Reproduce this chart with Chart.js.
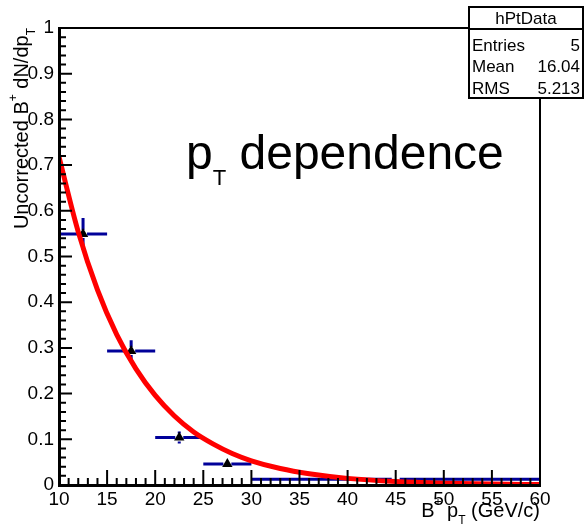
<!DOCTYPE html>
<html>
<head>
<meta charset="utf-8">
<script src="https://cdn.jsdelivr.net/npm/chart.js@4/dist/chart.umd.min.js"></script>
<style>
	body { margin: 0; background: #fff; }
	canvas { display: block; }
</style>
</head>
<body>
<canvas id="pt-canvas" width="585" height="529"></canvas>
<script>
// histogram bins (B+ pT, GeV/c) and uncorrected yield
const binLow = [10, 15, 20, 25, 30];
const binHigh = [15, 20, 25, 30, 60];
const binCenter = [12.5, 17.5, 22.5, 27.5, 45];
const yieldData = [0.549, 0.293, 0.104, 0.046, 0.0125];
const yieldErr = [0.035, 0.024, 0.013, 0.006, 0.003];

// exponential fit curve
const fitX = [10, 12, 14, 16, 18, 20, 22, 24, 26, 28, 30, 33, 36, 40, 45, 50, 55, 60];
const fitY = [0.718, 0.554, 0.427, 0.329, 0.254, 0.196, 0.151, 0.116, 0.09, 0.069, 0.053, 0.036, 0.0245, 0.0145, 0.0076, 0.004, 0.002, 0.001];

const xTicks = [10, 15, 20, 25, 30, 35, 40, 45, 50, 55, 60];
const yTicks = [0, 0.1, 0.2, 0.3, 0.4, 0.5, 0.6, 0.7, 0.8, 0.9, 1];
const yTickLabels = ["0", "0.1", "0.2", "0.3", "0.4", "0.5", "0.6", "0.7", "0.8", "0.9", "1"];

const statTitle = "hPtData";
const statLabels = ["Entries", "Mean", "RMS"];
const statValues = ["5", "16.04", "5.213"];

const FONT = "'Liberation Sans', Arial, Helvetica, sans-serif";
const errColor = "#000099";

function richText(ctx, parts, x, y, size, align) {
	let total = 0;
	parts.forEach((p) => {
		ctx.font = (p.s || 1) * size + "px " + FONT;
		p.w = ctx.measureText(p.t).width;
		total += p.w;
	});
	let cx = align === "right" ? x - total : x;
	ctx.textAlign = "left";
	ctx.textBaseline = "alphabetic";
	parts.forEach((p) => {
		ctx.font = (p.s || 1) * size + "px " + FONT;
		ctx.fillText(p.t, cx, y + (p.dy || 0) * size);
		cx += p.w;
	});
}

const rootFrame = {
	id: "rootFrame",
	beforeDatasetsDraw(chart) {
		const { ctx, scales: { x, y } } = chart;
		ctx.save();
		ctx.strokeStyle = errColor;
		ctx.lineWidth = 3;
		const gap = 4;
		binCenter.forEach((c, i) => {
			const px = x.getPixelForValue(c);
			const py = y.getPixelForValue(yieldData[i]);
			const x0 = x.getPixelForValue(binLow[i]);
			const x1 = x.getPixelForValue(binHigh[i]);
			const yTop = y.getPixelForValue(yieldData[i] + yieldErr[i]);
			const yBot = y.getPixelForValue(yieldData[i] - yieldErr[i]);
			ctx.beginPath();
			ctx.moveTo(x0, py); ctx.lineTo(px - gap, py);
			ctx.moveTo(px + gap, py); ctx.lineTo(x1, py);
			if (yTop < py - gap) { ctx.moveTo(px, yTop); ctx.lineTo(px, py - gap); }
			if (yBot > py + gap) { ctx.moveTo(px, py + gap); ctx.lineTo(px, yBot); }
			ctx.stroke();
		});
		ctx.restore();
	},
	afterDraw(chart) {
		const { ctx, chartArea: a, scales: { x, y } } = chart;
		ctx.save();
		ctx.strokeStyle = "#000";
		ctx.fillStyle = "#000";

		// ticks inside the frame
		ctx.lineWidth = 2;
		ctx.beginPath();
		for (let v = 10; v <= 60; v += 1) {
			const px = x.getPixelForValue(v);
			const len = v % 5 === 0 ? 15 : 7;
			ctx.moveTo(px, a.bottom); ctx.lineTo(px, a.bottom - len);
		}
		for (let k = 0; k <= 50; k++) {
			const py = y.getPixelForValue(k / 50);
			const len = k % 5 === 0 ? 13 : 7;
			ctx.moveTo(a.left, py); ctx.lineTo(a.left + len, py);
		}
		ctx.stroke();

		// top and right frame
		ctx.beginPath();
		ctx.moveTo(a.left, a.top); ctx.lineTo(a.right, a.top);
		ctx.moveTo(a.right, a.top); ctx.lineTo(a.right, a.bottom);
		ctx.stroke();

		// stats box
		const bx = 469, by = 7, bw = 114, bh = 91;
		ctx.fillStyle = "#fff";
		ctx.fillRect(bx, by, bw, bh);
		ctx.strokeRect(bx, by, bw, bh);
		ctx.beginPath();
		ctx.moveTo(bx, 29); ctx.lineTo(bx + bw, 29);
		ctx.stroke();
		ctx.fillStyle = "#000";
		ctx.font = "17px " + FONT;
		ctx.textBaseline = "middle";
		ctx.textAlign = "center";
		ctx.fillText(statTitle, bx + bw / 2, 19);
		statLabels.forEach((lab, i) => {
			const ty = 46 + i * 21.5;
			ctx.textAlign = "left";
			ctx.fillText(lab, 472, ty);
			ctx.textAlign = "right";
			ctx.fillText(statValues[i], 580, ty);
		});

		// big label
		richText(ctx, [
			{ t: "p" },
			{ t: "T", s: 0.46, dy: 0.34 },
			{ t: " dependence" },
		], 186, 169, 48, "left");

		// x axis title
		richText(ctx, [
			{ t: "B" },
			{ t: "+", s: 0.6, dy: -0.55 },
			{ t: " p" },
			{ t: "T", s: 0.6, dy: 0.35 },
			{ t: " (GeV/c)" },
		], a.right, 517, 20, "right");

		// y axis title
		ctx.translate(28, a.top);
		ctx.rotate(-Math.PI / 2);
		richText(ctx, [
			{ t: "Uncorrected B" },
			{ t: "+", s: 0.6, dy: -0.55 },
			{ t: " dN/dp" },
			{ t: "T", s: 0.6, dy: 0.35 },
		], 0, 0, 20, "right");
		ctx.restore();
	},
};

const ptChart = new Chart(document.getElementById("pt-canvas"), {
	type: "scatter",
	data: {
		datasets: [
			{
				label: "fit",
				data: fitX.map((v, i) => ({ x: v, y: fitY[i] })),
				showLine: true,
				borderColor: "#ff0000",
				borderWidth: 5,
				pointRadius: 0,
				cubicInterpolationMode: "monotone",
			},
			{
				label: "hPtData",
				data: binCenter.map((v, i) => ({ x: v, y: yieldData[i] })),
				pointStyle: "triangle",
				pointRadius: [6, 6, 6, 6, 0],
				backgroundColor: "#000",
				borderColor: "#000",
				borderWidth: 0,
			},
		],
	},
	options: {
		responsive: false,
		animation: false,
		devicePixelRatio: 1,
		layout: { padding: { top: 28, right: 45, left: 0, bottom: 0 } },
		plugins: {
			legend: { display: false },
			tooltip: { enabled: false },
		},
		scales: {
			x: {
				type: "linear",
				min: 10,
				max: 60,
				afterBuildTicks: (s) => { s.ticks = xTicks.map((v) => ({ value: v })); },
				afterFit: (s) => { s.height = 44; },
				grid: { display: false, drawTicks: false },
				border: { display: true, color: "#000", width: 3, z: 1 },
				ticks: {
					color: "#000",
					font: { family: FONT, size: 19 },
					padding: 3,
					maxRotation: 0,
					autoSkip: false,
				},
			},
			y: {
				type: "linear",
				min: 0,
				max: 1,
				afterBuildTicks: (s) => { s.ticks = yTicks.map((v) => ({ value: v })); },
				afterFit: (s) => { s.width = 59; },
				grid: { display: false, drawTicks: false },
				border: { display: true, color: "#000", width: 3, z: 1 },
				ticks: {
					color: "#000",
					font: { family: FONT, size: 19 },
					padding: 5,
					autoSkip: false,
					callback: (v, i) => yTickLabels[i],
				},
			},
		},
	},
	plugins: [rootFrame],
});
</script>
</body>
</html>
